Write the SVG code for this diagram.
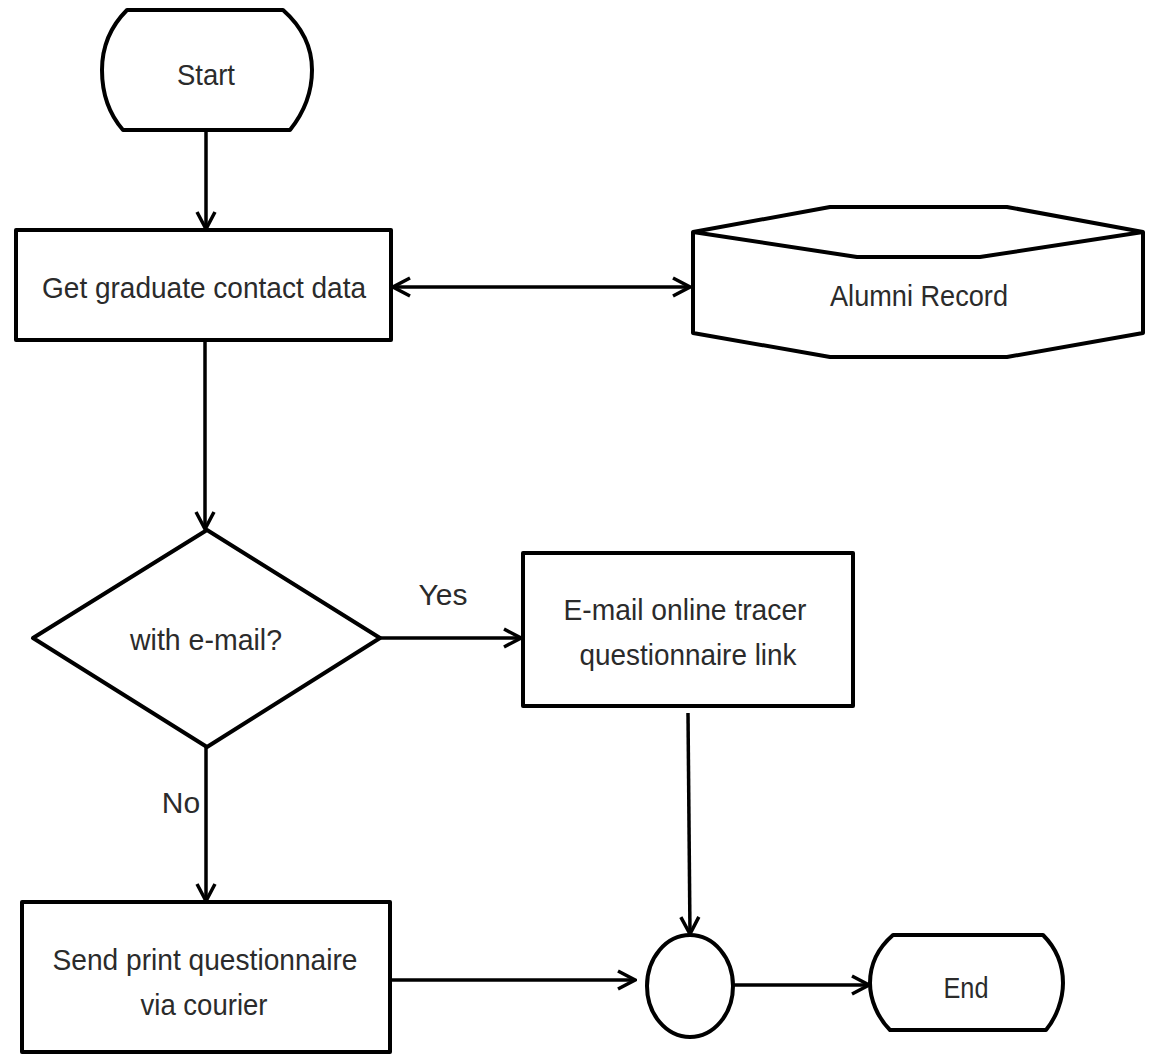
<svg xmlns="http://www.w3.org/2000/svg" width="1154" height="1054" viewBox="0 0 1154 1054">
<defs>
<style>
.shape{fill:#fff;stroke:#000;stroke-width:4;stroke-linejoin:round}
.conn{fill:none;stroke:#000;stroke-width:3.5}
.t{font-family:"Liberation Sans",Arial,sans-serif;font-size:30px;fill:#2b2b2b;text-anchor:middle}
</style>
<marker id="ah" viewBox="0 0 22 22" refX="20" refY="11" markerWidth="22" markerHeight="22" markerUnits="userSpaceOnUse" orient="auto-start-reverse">
<path d="M3,2 L20,11 L3,20" fill="none" stroke="#000" stroke-width="3.5"/>
</marker>
</defs>
<rect width="1154" height="1054" fill="#fff"/>
<g id="connectors">
<line class="conn" x1="206" y1="131" x2="206" y2="229" marker-end="url(#ah)"/>
<line class="conn" x1="393" y1="287" x2="690" y2="287" marker-start="url(#ah)" marker-end="url(#ah)"/>
<line class="conn" x1="205" y1="341" x2="205" y2="529" marker-end="url(#ah)"/>
<line class="conn" x1="380" y1="638" x2="521" y2="638" marker-end="url(#ah)"/>
<line class="conn" x1="206" y1="747" x2="206" y2="901" marker-end="url(#ah)"/>
<line class="conn" x1="688" y1="713" x2="690" y2="934" marker-end="url(#ah)"/>
<line class="conn" x1="390" y1="980" x2="635" y2="980" marker-end="url(#ah)"/>
<line class="conn" x1="733" y1="985" x2="869" y2="985" marker-end="url(#ah)"/>
<text class="t" x="443" y="605">Yes</text>
<text class="t" x="181" y="813">No</text>
</g>
<g id="start">
<path class="shape" d="M127,10 L283,10 C300,25 312,45 312,70 C312,95 302,115 290,130 L123,130 C110,115 102,95 102,70 C102,45 112,25 127,10 Z"/>
<text class="t" x="206" y="85" textLength="58" lengthAdjust="spacingAndGlyphs">Start</text>
</g>
<g id="get-data">
<rect class="shape" x="16" y="230" width="375" height="110"/>
<text class="t" x="204" y="298" textLength="324" lengthAdjust="spacingAndGlyphs">Get graduate contact data</text>
</g>
<g id="alumni-record">
<path class="shape" d="M693,232 L830,207 L1007,207 L1143,232 L1143,333 L1007,357 L830,357 L693,333 Z"/>
<path class="shape" fill="none" d="M693,232 L857,257 L980,257 L1143,232"/>
<text class="t" x="919" y="306" textLength="178" lengthAdjust="spacingAndGlyphs">Alumni Record</text>
</g>
<g id="decision">
<path class="shape" d="M207,530 L380,638 L207,747 L33,638 Z"/>
<text class="t" x="206" y="650" textLength="152" lengthAdjust="spacingAndGlyphs">with e-mail?</text>
</g>
<g id="email">
<rect class="shape" x="523" y="553" width="330" height="153"/>
<text class="t" x="685" y="620" textLength="243" lengthAdjust="spacingAndGlyphs">E-mail online tracer</text>
<text class="t" x="688" y="665" textLength="217" lengthAdjust="spacingAndGlyphs">questionnaire link</text>
</g>
<g id="print">
<rect class="shape" x="22" y="902" width="368" height="150"/>
<text class="t" x="205" y="970" textLength="305" lengthAdjust="spacingAndGlyphs">Send print questionnaire</text>
<text class="t" x="204" y="1015" textLength="127" lengthAdjust="spacingAndGlyphs">via courier</text>
</g>
<g id="merge">
<ellipse class="shape" cx="690" cy="986" rx="43" ry="51"/>
</g>
<g id="end">
<path class="shape" d="M893,935 L1043,935 C1056,948 1063,965 1063,983 C1063,1000 1056,1018 1046,1030 L890,1030 C878,1018 870,1000 870,983 C870,965 878,948 893,935 Z"/>
<text class="t" x="966" y="998" textLength="45" lengthAdjust="spacingAndGlyphs">End</text>
</g>
</svg>
